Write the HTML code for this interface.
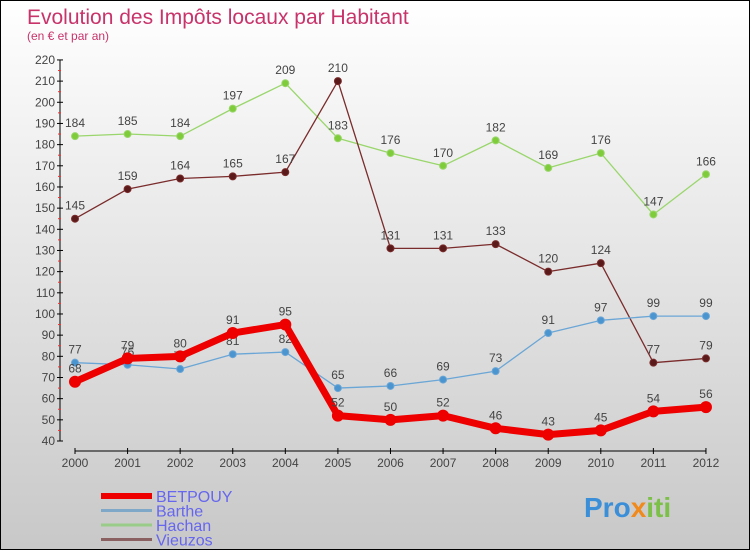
<!DOCTYPE html>
<html><head><meta charset="utf-8"><style>
body{margin:0;width:750px;height:550px;overflow:hidden;font-family:"Liberation Sans",sans-serif}
#wrap{position:relative;width:748px;height:548px;border:1px solid #000;background:linear-gradient(#fff,#f4f4f4 20%,#c8c8c8)}
</style></head><body>
<div id="wrap">
<svg id="chart" width="748" height="548" style="position:absolute;left:0;top:0">
<text x="26" y="23" font-size="21" fill="#c8336a">Evolution des Impôts locaux par Habitant</text>
<text x="26" y="39" font-size="12" fill="#c8336a">(en € et par an)</text>
<g id="axes"></g><g id="series"></g><g id="legend"></g>
<text x="583" y="516" font-size="28" font-weight="bold" fill="#3a8fd8">Pro<tspan fill="#f08a1c">x</tspan><tspan fill="#7cc04a">iti</tspan></text>
</svg></div>
<script>
const years=[2000,2001,2002,2003,2004,2005,2006,2007,2008,2009,2010,2011,2012];
const yTicks=[40,50,60,70,80,90,100,110,120,130,140,150,160,170,180,190,200,210,220];
const betpouy=[68,79,80,91,95,52,50,52,46,43,45,54,56];
const barthe=[77,76,74,81,82,65,66,69,73,91,97,99,99];
const hachan=[184,185,184,197,209,183,176,170,182,169,176,147,166];
const vieuzos=[145,159,164,165,167,210,131,131,133,120,124,77,79];
const NS="http://www.w3.org/2000/svg";
const xS=i=>74+i*52.58, yS=v=>440-(v-40)*2.117;
function mk(t,a,p){const e=document.createElementNS(NS,t);for(const k in a)e.setAttribute(k,a[k]);p.appendChild(e);return e;}
const ax=document.getElementById('axes');
const yl=mk('line',{x1:59,y1:yS(220),x2:59,y2:yS(40),stroke:'#000'},ax);


yTicks.forEach(v=>{mk('line',{x1:56,x2:62,y1:yS(v),y2:yS(v),stroke:'#000'},ax);
if(v<220)mk('line',{x1:57,x2:60,y1:yS(v+5),y2:yS(v+5),stroke:'#e33'},ax);
const t=mk('text',{x:54,y:yS(v)+4,'font-size':12,'text-anchor':'end',fill:'#444'},ax);t.textContent=v;

});
const xl=mk('line',{x1:xS(0),x2:xS(12),y1:450,y2:450,stroke:'#000'},ax);


years.forEach((y,i)=>{mk('line',{x1:xS(i),x2:xS(i),y1:447,y2:453,stroke:'#000'},ax);
const t=mk('text',{x:xS(i),y:466,'font-size':12,'text-anchor':'middle',fill:'#444'},ax);t.textContent=y;

});
const sg=document.getElementById('series');
function series(d,col,w,r,dot,name,lab){
const g=mk('g',{},sg);


mk('polyline',{points:d.map((v,i)=>xS(i)+','+yS(v)).join(' '),fill:'none',stroke:col,'stroke-width':w,'stroke-linejoin':'round'},g);
d.forEach((v,i)=>{const c=mk('circle',{cx:xS(i),cy:yS(v),r:r,fill:dot,stroke:col,'stroke-width':1},g);


if(lab){const t=mk('text',{x:xS(i),y:yS(v)-9,'font-size':12,'text-anchor':'middle',fill:'#444'},g);t.textContent=v;

}});}
series(hachan,'#99d66b',1.3,3.5,'#7fcc3a','hachan',true);
series(vieuzos,'#7a2b2b',1.3,3.5,'#5a1a1a','vieuzos',true);
series(barthe,'#6aa6d6',1.3,3.5,'#4a94d0','barthe',true);
series(betpouy,'#ee0000',7,5.5,'#ee0000','betpouy',true);
const lg=document.getElementById('legend');
[['BETPOUY','#ee0000',6],['Barthe','#7fa8c8',3],['Hachan','#99cc88',3],['Vieuzos','#8a6060',3]].forEach((e,i)=>{
const y=495+i*14.5;
const l=mk('line',{x1:100,x2:151,y1:y,y2:y,stroke:e[1],'stroke-width':e[2]},lg);


const t=mk('text',{x:155,y:y+6,'font-size':16,fill:'#6666ee'},lg);t.textContent=e[0];

});
</script></body></html>
